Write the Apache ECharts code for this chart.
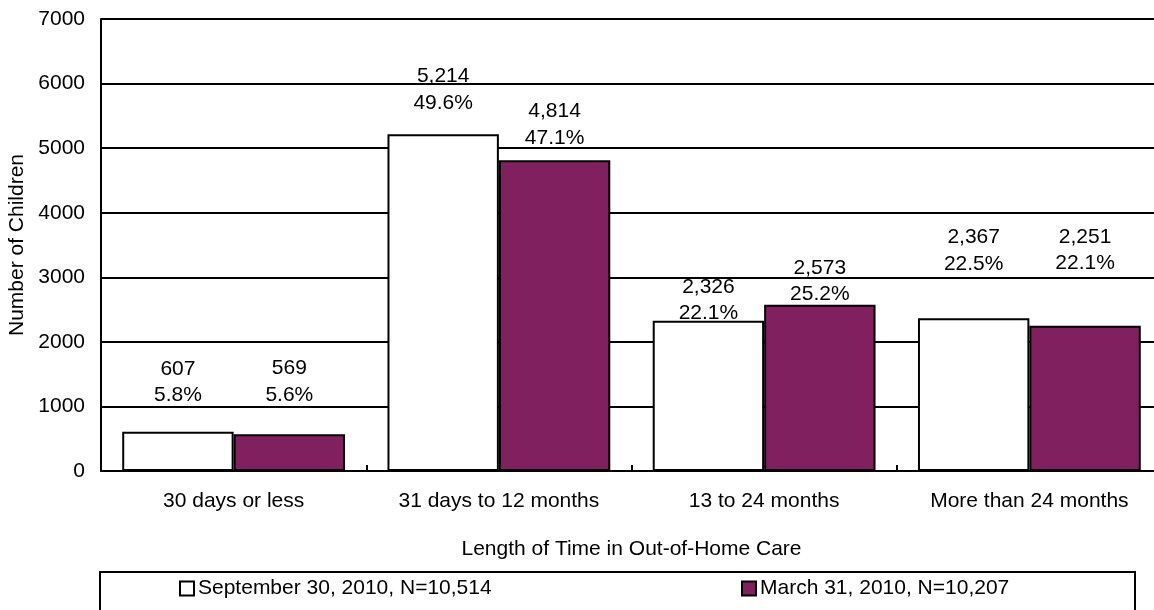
<!DOCTYPE html>
<html>
<head>
<meta charset="utf-8">
<script src="https://cdn.jsdelivr.net/npm/echarts@6/dist/echarts.min.js"></script>
<style>
html,body{margin:0;padding:0;background:#fff;}
#c{width:1154px;height:610px;}
</style>
</head>
<body>
<div id="c"></div>
<script>
var categories = ['30 days or less', '31 days to 12 months', '13 to 24 months', 'More than 24 months'];
var sepValues = [607, 5214, 2326, 2367];
var sepPct = ['5.8%', '49.6%', '22.1%', '22.5%'];
var marValues = [569, 4814, 2573, 2251];
var marPct = ['5.6%', '47.1%', '25.2%', '22.1%'];
var seriesNames = ['September 30, 2010, N=10,514', 'March 31, 2010, N=10,207'];
var yTicks = [0, 1000, 2000, 3000, 4000, 5000, 6000, 7000];

// label placement (style): distance from bar top to label block bottom
var sepLabelDist = [23, 18, -6, 41];
var marLabelDist = [26, 9, -3, 49];

var FONT = 'Liberation Sans, Arial, sans-serif';
var FS = 21;

function fmt(v){ return v.toLocaleString('en-US'); }

function buildData(vals, dists){
  return vals.map(function(v, i){
    return {value: v, label: {distance: dists[i]}};
  });
}

var chart = echarts.init(document.getElementById('c'), null, {renderer:'canvas'});
chart.setOption({
  animation: false,
  textStyle: {fontFamily: FONT, color: '#000'},
  grid: {left: 101, top: 19, bottom: 139, right: -8, containLabel: false, outerBoundsMode: 'none'},
  legend: [{
    data: [seriesNames[0]],
    top: 578, left: 179,
    itemWidth: 14, itemHeight: 14, itemGap: 4,
    icon: 'rect',
    textStyle: {fontFamily: FONT, fontSize: FS, color: '#000', padding: [0,0,0,-1]},
    itemStyle: {borderColor: '#000', borderWidth: 2},
    padding: 0
  },{
    data: [seriesNames[1]],
    top: 578, left: 741,
    itemWidth: 14, itemHeight: 14, itemGap: 4,
    icon: 'rect',
    textStyle: {fontFamily: FONT, fontSize: FS, color: '#000', padding: [0,0,0,-1]},
    itemStyle: {borderColor: '#000', borderWidth: 2},
    padding: 0
  }],
  graphic: [{
    type: 'rect', shape: {x: 100, y: 572, width: 1035, height: 60},
    style: {fill: 'none', stroke: '#000', lineWidth: 2}, z: 0
  }],
  xAxis: {
    type: 'category', data: categories,
    axisLine: {lineStyle: {color: '#000', width: 2}},
    axisTick: {show: true, inside: true, length: 6, lineStyle: {color: '#000', width: 2}},
    axisLabel: {fontFamily: FONT, fontSize: FS, color: '#000', margin: 20},
    name: 'Length of Time in Out-of-Home Care', nameLocation: 'middle', nameGap: 68,
    nameTextStyle: {fontFamily: FONT, fontSize: FS, color: '#000'}
  },
  yAxis: {
    type: 'value', min: yTicks[0], max: yTicks[yTicks.length-1], interval: 1000,
    axisLine: {show: true, lineStyle: {color: '#000', width: 2}},
    axisTick: {show: false},
    splitLine: {show: true, lineStyle: {color: '#000', width: 2}},
    axisLabel: {fontFamily: FONT, fontSize: FS, color: '#000', margin: 16,
      formatter: function(v){ return String(v); }},
    name: 'Number of Children', nameLocation: 'middle', nameGap: 72, nameRotate: 90,
    nameTextStyle: {fontFamily: FONT, fontSize: FS, color: '#000'}
  },
  series: [
    {
      name: seriesNames[0], type: 'bar', data: buildData(sepValues, sepLabelDist),
      barGap: '0%', barCategoryGap: '16%',
      itemStyle: {color: '#ffffff', borderColor: '#000', borderWidth: 2},
      label: {show: true, position: 'top', fontFamily: FONT, fontSize: FS, color: '#000', lineHeight: 26.5,
        formatter: function(p){ return fmt(p.value) + '\n' + sepPct[p.dataIndex]; }}
    },
    {
      name: seriesNames[1], type: 'bar', data: buildData(marValues, marLabelDist),
      barGap: '0%', barCategoryGap: '16%',
      itemStyle: {color: '#80205F', borderColor: '#000', borderWidth: 2},
      label: {show: true, position: 'top', fontFamily: FONT, fontSize: FS, color: '#000', lineHeight: 26.5,
        formatter: function(p){ return fmt(p.value) + '\n' + marPct[p.dataIndex]; }}
    }
  ]
});
</script>
</body>
</html>
